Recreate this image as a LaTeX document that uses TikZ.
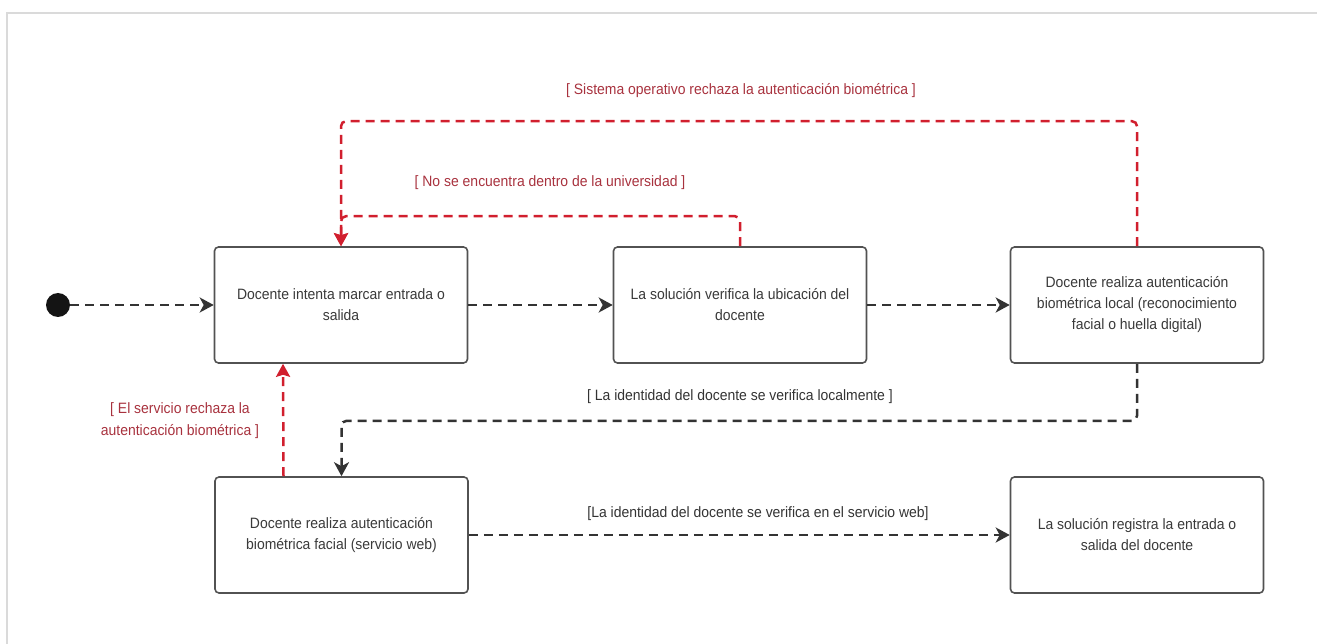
\documentclass[tikz,border=0pt]{standalone}
\usepackage{fontspec}
\setmainfont{Liberation Sans}[FakeStretch=0.93]
\usetikzlibrary{arrows.meta,positioning}
\definecolor{ink}{HTML}{333333}
\definecolor{txt}{HTML}{3A3A3A}
\definecolor{flowred}{HTML}{D11F2E}
\definecolor{guardred}{HTML}{A8323E}
\definecolor{frame}{HTML}{DADADA}
\tikzset{
  state/.style={draw=ink!85, line width=1.6pt, rounded corners=4pt, fill=white,
    minimum width=253pt, minimum height=116pt, align=center,
    text=txt, font=\fontsize{15pt}{21pt}\selectfont, inner sep=0pt},
  blkflow/.style={draw=ink, line width=2.5pt, dash pattern=on 9pt off 6pt,
    -{Stealth[length=14pt,width=15pt,inset=4pt]}},
  redflow/.style={draw=flowred, line width=2.5pt, dash pattern=on 9pt off 6pt,
    rounded corners=5pt, -{Stealth[length=13pt,width=14pt,inset=2pt]}},
  guard/.style={text=ink, font=\fontsize{15pt}{22pt}\selectfont, inner sep=0pt},
  redguard/.style={guard, text=guardred, align=center}
}
\begin{document}
\begin{tikzpicture}[x=1pt,y=-1pt]
  \useasboundingbox (0,0) rectangle (1317,644);
  % outer frame (left and top edges only)
  \draw[frame, line width=1.5pt] (7,644) -- (7,13) -- (1317,13);

  % initial state
  \node[circle, fill=ink!40!black, minimum size=24pt, inner sep=0pt] (start) at (58,305) {};

  % states
  \node[state] (b1) at (341,305) {Docente intenta marcar entrada o\\salida};
  \node[state] (b2) at (740,305) {La solución verifica la ubicación del\\docente};
  \node[state] (b3) at (1137,305) {Docente realiza autenticación\\biométrica local (reconocimiento\\facial o huella digital)};
  \node[state] (b4) at (341.5,535) {Docente realiza autenticación\\biométrica facial (servicio web)};
  \node[state] (b5) at (1137,535) {La solución registra la entrada o\\salida del docente};

  % main flow
  \draw[blkflow] (start) -- (b1);
  \draw[blkflow] (b1) -- (b2);
  \draw[blkflow] (b2) -- (b3);
  \draw[blkflow, rounded corners=5pt] (b3.south) -- ++(0,57) -| (b4.north);
  \draw[blkflow] (b4) -- (b5);

  % rejection loops
  \draw[redflow] ([xshift=-58pt]b4.north) -- ([xshift=-58pt]b1.south);
  \draw[redflow] (b2.north) -- ++(0,-30) -| (b1.north);
  \draw[redflow] (b3.north) -- ++(0,-125) -| (b1.north);

  % guards
  \node[redguard] (g1) at (741,91) {[ Sistema operativo rechaza la autenticación biométrica ]};
  \node[redguard] (g2) at (550,183) {[ No se encuentra dentro de la universidad ]};
  \node[guard] (g3) at (740,397) {[ La identidad del docente se verifica localmente ]};
  \node[guard] (g4) at (758,514) {[La identidad del docente se verifica en el servicio web]};
  \node[redguard] (g5) at (180,421) {[ El servicio rechaza la\\autenticación biométrica ]};
\end{tikzpicture}
\end{document}
